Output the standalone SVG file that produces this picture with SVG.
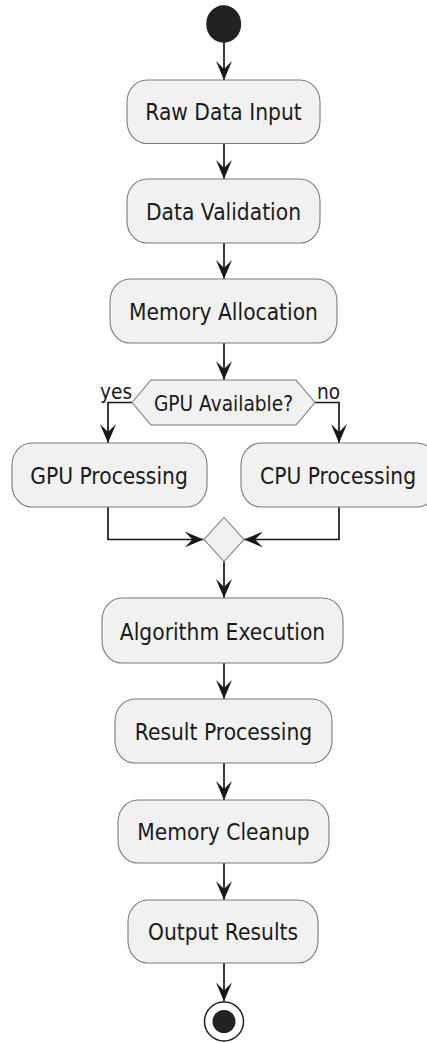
<svg xmlns="http://www.w3.org/2000/svg" width="427" height="1043" viewBox="0 0 427 1043">
<defs>
<style>
.box{fill:#F1F1F1;stroke:#7a7a7a;stroke-width:1.1}
.lbl{font-family:"DejaVu Sans",sans-serif;font-size:20.3px;fill:#1a1a1a;text-anchor:middle}
.sm{font-family:"DejaVu Sans",sans-serif;font-size:18.6px;fill:#1a1a1a}
.edge{fill:none;stroke:#181818;stroke-width:1.7}
</style>
<marker id="arr" markerUnits="userSpaceOnUse" markerWidth="20" markerHeight="16" refX="19" refY="8" orient="auto" viewBox="0 0 20 16">
<path d="M0,0 L19,8 L0,16 L8,8 Z" fill="#181818"/>
</marker>
</defs>
<rect width="427" height="1043" fill="#FFFFFF"/>
<g id="connectors">
<path class="edge" d="M224,42 V80" marker-end="url(#arr)"/>
<path class="edge" d="M224,143.5 V179" marker-end="url(#arr)"/>
<path class="edge" d="M224,243 V279" marker-end="url(#arr)"/>
<path class="edge" d="M224,343 V380" marker-end="url(#arr)"/>
<path class="edge" d="M132,402.5 H108 V443" marker-end="url(#arr)"/>
<path class="edge" d="M315,402.5 H339 V443" marker-end="url(#arr)"/>
<path class="edge" d="M108,507 V539.5 H203.5" marker-end="url(#arr)"/>
<path class="edge" d="M339,507 V539.5 H244" marker-end="url(#arr)"/>
<path class="edge" d="M224,561.5 V598" marker-end="url(#arr)"/>
<path class="edge" d="M224,663 V699" marker-end="url(#arr)"/>
<path class="edge" d="M224,763 V800" marker-end="url(#arr)"/>
<path class="edge" d="M224,863 V900" marker-end="url(#arr)"/>
<path class="edge" d="M224,963 V1001.5" marker-end="url(#arr)"/>
</g>
<g id="start"><ellipse cx="223.7" cy="24" rx="17.5" ry="18.8" fill="#222222"/></g>
<g id="raw-data-input"><rect class="box" x="127" y="80" width="193" height="63.5" rx="20" ry="22"/><text class="lbl" transform="translate(223.5,120) scale(1,1.15)">Raw Data Input</text></g>
<g id="data-validation"><rect class="box" x="127" y="179" width="193" height="64" rx="20" ry="22"/><text class="lbl" transform="translate(223.5,220) scale(1,1.15)">Data Validation</text></g>
<g id="memory-allocation"><rect class="box" x="110" y="279" width="227" height="64" rx="20" ry="22"/><text class="lbl" transform="translate(223.5,320) scale(1,1.15)">Memory Allocation</text></g>
<g id="gpu-available"><polygon class="box" points="132,402.5 151,380 296,380 315,402.5 296,425 151,425"/><text class="sm" text-anchor="middle" transform="translate(223.5,411) scale(1,1.15)">GPU Available?</text>
<text class="sm" transform="translate(100,398.5) scale(1,1.15)">yes</text><text class="sm" transform="translate(317,398.5) scale(1,1.15)">no</text></g>
<g id="gpu-processing"><rect class="box" x="12" y="443" width="195" height="64" rx="20" ry="22"/><text class="lbl" transform="translate(109,484) scale(1,1.15)">GPU Processing</text></g>
<g id="cpu-processing"><rect class="box" x="241" y="443" width="196" height="64" rx="20" ry="22"/><text class="lbl" transform="translate(338,484) scale(1,1.15)">CPU Processing</text></g>
<g id="merge"><polygon class="box" points="224,517.5 244,539.5 224,561.5 204,539.5"/></g>
<g id="algorithm-execution"><rect class="box" x="102" y="598" width="241" height="65" rx="20" ry="22"/><text class="lbl" transform="translate(222.5,639.5) scale(1,1.15)">Algorithm Execution</text></g>
<g id="result-processing"><rect class="box" x="115" y="699" width="217" height="64" rx="20" ry="22"/><text class="lbl" transform="translate(223.5,740) scale(1,1.15)">Result Processing</text></g>
<g id="memory-cleanup"><rect class="box" x="118" y="800" width="211" height="63" rx="20" ry="22"/><text class="lbl" transform="translate(223.5,840) scale(1,1.15)">Memory Cleanup</text></g>
<g id="output-results"><rect class="box" x="128" y="900" width="190" height="63" rx="20" ry="22"/><text class="lbl" transform="translate(223,940) scale(1,1.15)">Output Results</text></g>
<g id="end"><circle cx="224" cy="1021.5" r="19.5" fill="#FFFFFF" stroke="#222222" stroke-width="1.5"/><circle cx="224" cy="1021.5" r="11.5" fill="#222222"/></g>
</svg>
